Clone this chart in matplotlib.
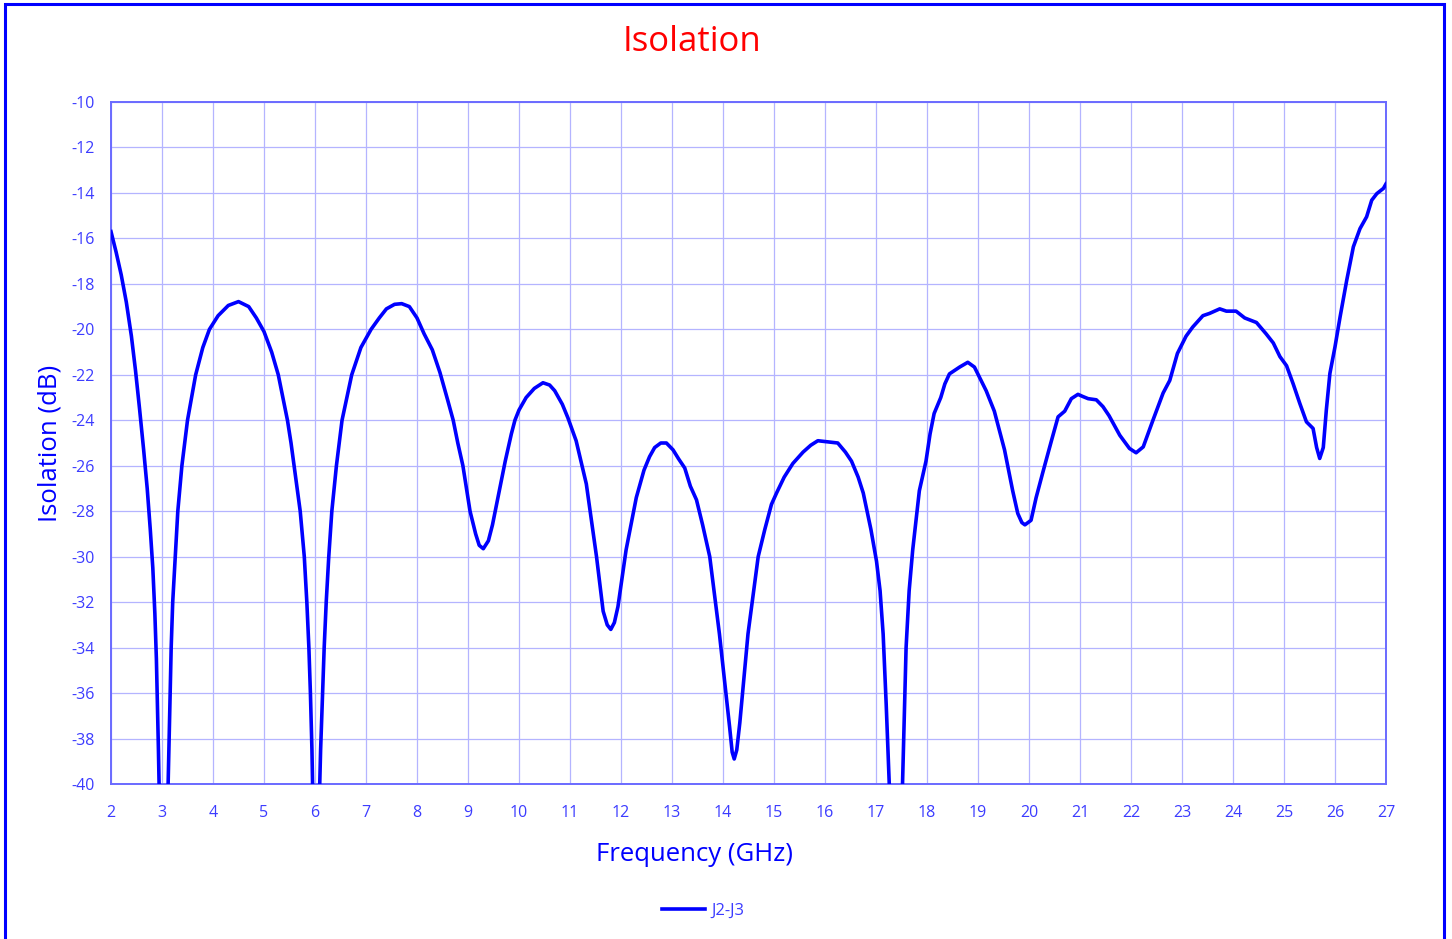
import matplotlib
matplotlib.use("Agg")
import matplotlib.pyplot as plt
from matplotlib.patches import Rectangle

# J2-J3 isolation (GHz, dB); dips go below the -40 floor
freq_ghz = [
    2.00, 2.10, 2.20, 2.30, 2.40, 2.48, 2.56, 2.64, 2.71, 2.77, 2.82, 2.86, 2.89, 2.91, 2.93,
    2.96, 3.03, 3.10, 3.13, 3.16, 3.18, 3.21, 3.26, 3.31, 3.39, 3.50, 3.66, 3.80, 3.93, 4.10,
    4.30, 4.50, 4.70, 4.85, 5.00, 5.15, 5.28, 5.37, 5.46, 5.53, 5.59, 5.65, 5.71, 5.75, 5.79,
    5.84, 5.88, 5.91, 5.94, 5.97, 6.02, 6.07, 6.11, 6.15, 6.18, 6.22, 6.27, 6.33, 6.42, 6.53,
    6.72, 6.90, 7.10, 7.26, 7.40, 7.56, 7.70, 7.85, 8.00, 8.14, 8.30, 8.45, 8.60, 8.71, 8.80,
    8.90, 9.04, 9.15, 9.22, 9.30, 9.40, 9.48, 9.56, 9.64, 9.73, 9.85, 9.92, 10.00, 10.14, 10.30,
    10.47, 10.60, 10.70, 10.85, 10.96, 11.12, 11.32, 11.52, 11.65, 11.73, 11.80, 11.87, 11.94, 12.10, 12.30,
    12.45, 12.56, 12.66, 12.78, 12.89, 13.02, 13.13, 13.25, 13.36, 13.48, 13.60, 13.74, 13.93, 14.13, 14.18,
    14.22, 14.27, 14.33, 14.49, 14.69, 14.82, 14.95, 15.05, 15.20, 15.37, 15.57, 15.72, 15.86, 16.05, 16.25,
    16.40, 16.52, 16.65, 16.75, 16.90, 17.01, 17.08, 17.14, 17.20, 17.26, 17.32, 17.40, 17.47, 17.52, 17.56,
    17.59, 17.65, 17.72, 17.85, 17.98, 18.06, 18.14, 18.27, 18.35, 18.44, 18.64, 18.80, 18.93, 19.05, 19.16,
    19.32, 19.52, 19.68, 19.78, 19.86, 19.92, 20.04, 20.14, 20.27, 20.44, 20.57, 20.70, 20.83, 20.96, 21.05,
    21.16, 21.32, 21.45, 21.57, 21.78, 21.97, 22.10, 22.24, 22.43, 22.63, 22.76, 22.91, 23.08, 23.21, 23.41,
    23.54, 23.74, 23.87, 24.06, 24.23, 24.46, 24.65, 24.79, 24.92, 25.05, 25.18, 25.31, 25.44, 25.57, 25.64,
    25.70, 25.77, 25.83, 25.90, 26.00, 26.10, 26.23, 26.36, 26.49, 26.62, 26.72, 26.82, 26.95, 27.00,
]
isolation_db = [
    -15.7, -16.6, -17.6, -18.8, -20.3, -21.8, -23.5, -25.3, -27.0, -28.8, -30.5, -32.5, -34.5, -36.5, -38.5,
    -42.0, -48.0, -42.0, -39.0, -36.0, -34.0, -32.0, -30.0, -28.0, -26.0, -24.0, -22.0, -20.8, -20.0, -19.4,
    -18.95, -18.78, -19.0, -19.5, -20.1, -21.0, -22.0, -23.0, -24.0, -25.0, -26.0, -27.0, -28.0, -29.0, -30.0,
    -32.0, -34.0, -36.0, -38.5, -42.0, -48.0, -42.0, -38.5, -36.0, -34.0, -32.0, -30.0, -28.0, -26.0, -24.0,
    -22.0, -20.8, -20.0, -19.5, -19.1, -18.9, -18.87, -19.0, -19.5, -20.2, -20.9, -21.9, -23.1, -24.0, -25.0,
    -26.0, -28.0, -29.0, -29.5, -29.65, -29.3, -28.6, -27.7, -26.8, -25.8, -24.6, -24.0, -23.55, -23.0, -22.6,
    -22.35, -22.45, -22.7, -23.3, -23.9, -24.9, -26.8, -30.0, -32.4, -33.0, -33.2, -32.9, -32.2, -29.7, -27.4,
    -26.2, -25.6, -25.2, -25.0, -25.0, -25.3, -25.7, -26.1, -26.9, -27.5, -28.6, -30.0, -33.4, -37.5, -38.6,
    -38.9, -38.5, -37.3, -33.4, -30.0, -28.8, -27.7, -27.2, -26.5, -25.9, -25.4, -25.1, -24.9, -24.95, -25.0,
    -25.4, -25.8, -26.5, -27.2, -28.8, -30.2, -31.5, -33.4, -36.5, -40.0, -45.0, -48.0, -45.0, -40.0, -36.5,
    -34.0, -31.5, -29.7, -27.1, -25.8, -24.6, -23.7, -23.0, -22.4, -21.96, -21.66, -21.45, -21.66, -22.2, -22.7,
    -23.6, -25.3, -27.1, -28.1, -28.5, -28.6, -28.4, -27.4, -26.3, -24.9, -23.85, -23.6, -23.05, -22.86, -22.95,
    -23.05, -23.1, -23.4, -23.8, -24.66, -25.24, -25.43, -25.17, -24.0, -22.8, -22.25, -21.06, -20.3, -19.9, -19.4,
    -19.3, -19.1, -19.2, -19.2, -19.5, -19.7, -20.2, -20.6, -21.2, -21.6, -22.4, -23.26, -24.07, -24.36, -25.2,
    -25.68, -25.2, -23.55, -21.94, -20.77, -19.45, -17.84, -16.37, -15.57, -15.05, -14.32, -14.03, -13.8, -13.6,
]
x_ticks = list(range(2, 28))
y_ticks = list(range(-40, -9, 2))

BLUE = "#0000ff"
TICK_BLUE = "#3c3cff"
GRID_BLUE = "#b4b4ff"
FONT = ["Open Sans", "DejaVu Sans"]

plt.rcParams["font.family"] = FONT
plt.rcParams["axes.unicode_minus"] = False

fig = plt.figure(figsize=(14.52, 9.39), dpi=100)
ax = fig.add_axes([111 / 1452, 1 - 784 / 939, (1386 - 111) / 1452, (784 - 102) / 939])

ax.plot(freq_ghz, isolation_db, color=BLUE, lw=2.6, label="J2-J3",
        solid_joinstyle="round", zorder=3)

ax.set_xlim(2, 27)
ax.set_ylim(-40, -10)
ax.set_xticks(x_ticks)
ax.set_yticks(y_ticks)
ax.tick_params(axis="x", length=0, colors=TICK_BLUE, labelsize=11.5, pad=15)
ax.tick_params(axis="y", length=0, colors=TICK_BLUE, labelsize=11.5, pad=12)
ax.grid(True, color=GRID_BLUE, lw=0.9)
ax.set_axisbelow(True)
for sp in ax.spines.values():
    sp.set_color("#6a6aff")
    sp.set_linewidth(1.4)

ax.set_xlabel("Frequency (GHz)", color=BLUE, fontsize=18.5, labelpad=16)
ax.xaxis.set_label_coords((695 - 111) / 1275, -0.085)
ax.set_ylabel("Isolation (dB)", color=BLUE, fontsize=18.5, labelpad=6)

fig.text(692 / 1452, 1 - 42 / 939, "Isolation", color="#ff0000", fontsize=25,
         ha="center", va="center")

leg = fig.legend(loc="center", bbox_to_anchor=(703 / 1452, 1 - 911 / 939), frameon=False,
                 fontsize=12, handlelength=2.6, handletextpad=0.4)
for t in leg.get_texts():
    t.set_color(TICK_BLUE)

# outer chart border like the spreadsheet chart area
fig.patches.append(Rectangle((5 / 1452, -0.02), (1444 - 5) / 1452, 1 - 4 / 939 + 0.02,
                             transform=fig.transFigure, fill=False, edgecolor=BLUE, lw=2.2))

fig.savefig("out.png", dpi=100)
